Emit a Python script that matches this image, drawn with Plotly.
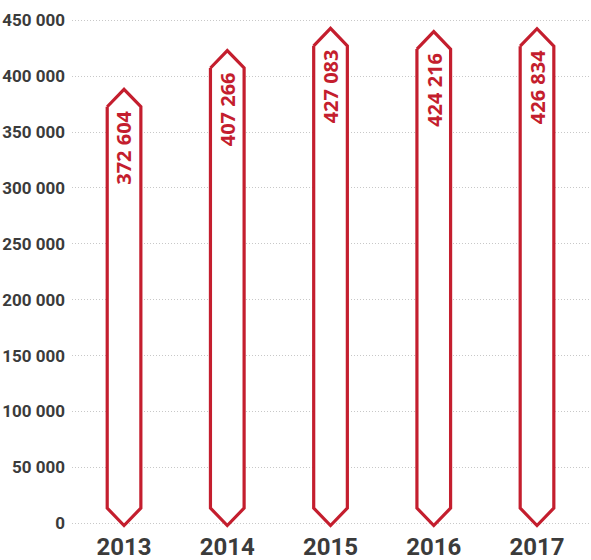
import plotly.graph_objects as go

years = ["2013", "2014", "2015", "2016", "2017"]
values = [372604, 407266, 427083, 424216, 426834]
labels = ["372 604", "407 266", "427 083", "424 216", "426 834"]
ytick_vals = [0, 50000, 100000, 150000, 200000, 250000, 300000, 350000, 400000, 450000]
ytick_text = ["0", "50 000", "100 000", "150 000", "200 000", "250 000", "300 000", "350 000", "400 000", "450 000"]

RED = "#c41e2e"
GREY = "#3b3b3b"
HALF_W = 0.163
CAP = 15600
BOTTOM_TIP = -2000

fig = go.Figure()
for i, v in enumerate(values):
    xs = [i - HALF_W, i, i + HALF_W, i + HALF_W, i, i - HALF_W, i - HALF_W]
    ys = [v, v + CAP, v, BOTTOM_TIP + CAP, BOTTOM_TIP, BOTTOM_TIP + CAP, v]
    fig.add_trace(go.Scatter(
        x=xs, y=ys, mode="lines", fill="toself", fillcolor="white",
        line=dict(color=RED, width=3.2), hoverinfo="skip", showlegend=False,
    ))
    fig.add_annotation(
        x=i, y=v, text=labels[i], textangle=-90, showarrow=False,
        xanchor="center", yanchor="top", yshift=-2,
        font=dict(family="Open Sans, Noto Sans, sans-serif", size=20, color=RED, weight="bold"),
    )

fig.update_layout(
    width=591, height=560,
    template="none",
    margin=dict(l=72, r=0, t=18, b=30, autoexpand=False),
    paper_bgcolor="white", plot_bgcolor="white",
    xaxis=dict(
        range=[-0.504, 4.523], tickvals=list(range(len(years))), ticktext=years,
        showgrid=False, zeroline=False, showline=False, ticks="",
        automargin=False, ticklabelstandoff=0,
        tickfont=dict(family="Liberation Sans Narrow, Roboto, sans-serif", size=24, color=GREY, weight="bold"),
    ),
    yaxis=dict(
        range=[-6000, 452000], tickvals=ytick_vals, ticktext=ytick_text,
        showgrid=True, gridcolor="#c8c8c8", gridwidth=1, griddash="1px,2px",
        zeroline=False, showline=False, ticks="", ticklabelstandoff=6,
        automargin=False,
        tickfont=dict(family="Liberation Sans Narrow, Roboto, sans-serif", size=17, color=GREY, weight="bold"),
    ),
)

fig.write_html("out.html")
